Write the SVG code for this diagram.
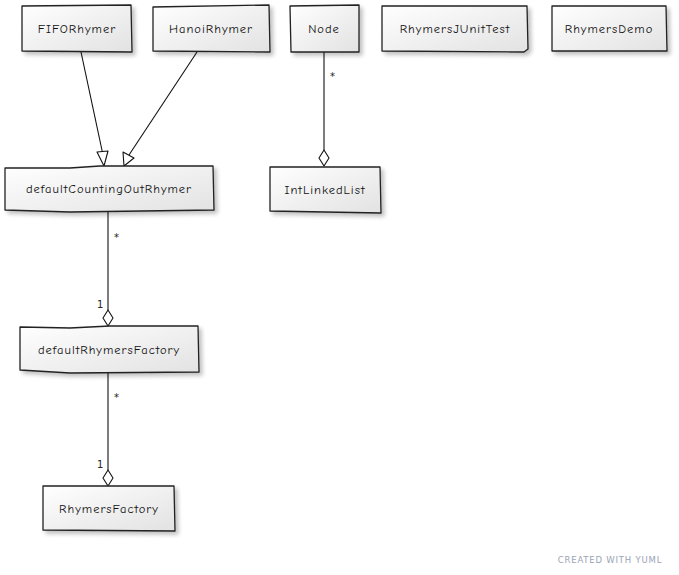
<svg xmlns="http://www.w3.org/2000/svg" width="679" height="575" viewBox="0 0 679 575">
<style>
.box{fill:url(#g);stroke:#222;stroke-width:1.3;stroke-linejoin:round;filter:url(#sh)}
.lbl{font-family:"Comic Neue","DejaVu Sans","Liberation Sans",sans-serif;font-size:12.5px;fill:#111;text-anchor:middle;letter-spacing:1px}
.ln{stroke:#111;stroke-width:1.1;fill:none}
.head{fill:#fff;stroke:#111;stroke-width:1.1;stroke-linejoin:round}
.card{font-family:"DejaVu Sans","Liberation Sans",sans-serif;font-size:10px;fill:#222}
</style>
<defs>
<linearGradient id="g" x1="0" y1="0" x2="1" y2="1">
<stop offset="0" stop-color="#ffffff"/>
<stop offset="1" stop-color="#e2e2e2"/>
</linearGradient>
<filter id="sh" x="-10%" y="-10%" width="130%" height="140%">
<feGaussianBlur in="SourceAlpha" stdDeviation="2"/>
<feOffset dx="3" dy="3"/>
<feComponentTransfer><feFuncA type="linear" slope="0.25"/></feComponentTransfer>
<feMerge><feMergeNode/><feMergeNode in="SourceGraphic"/></feMerge>
</filter>
</defs>
<rect width="679" height="575" fill="#fff"/>
<g id="connectors">
<line class="ln" x1="81" y1="52" x2="103" y2="155"/>
<polygon class="head" points="104,166 97,152 108,151"/>
<line class="ln" x1="197" y1="52" x2="129" y2="155"/>
<polygon class="head" points="124,166 123,152 134,158"/>
<line class="ln" x1="324" y1="52" x2="324" y2="150"/>
<polygon class="head" points="324,150 329,158 324,166 319,158"/>
<text class="card" x="330" y="80">*</text>
<line class="ln" x1="108" y1="211" x2="108" y2="310"/>
<polygon class="head" points="108,310 113,318 108,326 103,318"/>
<text class="card" x="114" y="241">*</text>
<text class="card" x="97" y="308">1</text>
<line class="ln" x1="108" y1="373" x2="108" y2="470"/>
<polygon class="head" points="108,470 113,478 108,486 103,478"/>
<text class="card" x="114" y="401">*</text>
<text class="card" x="97" y="468">1</text>
</g>
<g id="FIFORhymer">
<polygon class="box" points="22,6 131,5 132,52 22,51"/>
<text class="lbl" x="77" y="33">FIFORhymer</text>
</g>
<g id="HanoiRhymer">
<polygon class="box" points="153,7 269,5 270,52 153,51"/>
<text class="lbl" x="211" y="33">HanoiRhymer</text>
</g>
<g id="Node">
<polygon class="box" points="290,6 359,5 359,52 291,52"/>
<text class="lbl" x="324" y="33">Node</text>
</g>
<g id="RhymersJUnitTest">
<polygon class="box" points="382,6 527,6 528,49 524,52 382,51"/>
<text class="lbl" x="455" y="33">RhymersJUnitTest</text>
</g>
<g id="RhymersDemo">
<polygon class="box" points="552,6 666,6 667,51 552,51"/>
<text class="lbl" x="609" y="33">RhymersDemo</text>
</g>
<g id="defaultCountingOutRhymer">
<polygon class="box" points="5,168 70,168 100,166 213,166 214,210 70,212 5,210"/>
<text class="lbl" x="109" y="193">defaultCountingOutRhymer</text>
</g>
<g id="IntLinkedList">
<polygon class="box" points="270,167 380,167 381,213 270,211"/>
<text class="lbl" x="325" y="194">IntLinkedList</text>
</g>
<g id="defaultRhymersFactory">
<polygon class="box" points="20,327 70,328 110,326 198,326 199,372 70,373 20,370"/>
<text class="lbl" x="109" y="354">defaultRhymersFactory</text>
</g>
<g id="RhymersFactory">
<polygon class="box" points="43,486 174,486 175,531 43,530"/>
<text class="lbl" x="109" y="513">RhymersFactory</text>
</g>
<text x="610" y="563" font-family="'DejaVu Sans','Liberation Sans',sans-serif" font-size="8.5" fill="#9aa3b5" text-anchor="middle" letter-spacing="0.8">CREATED WITH YUML</text>
</svg>
